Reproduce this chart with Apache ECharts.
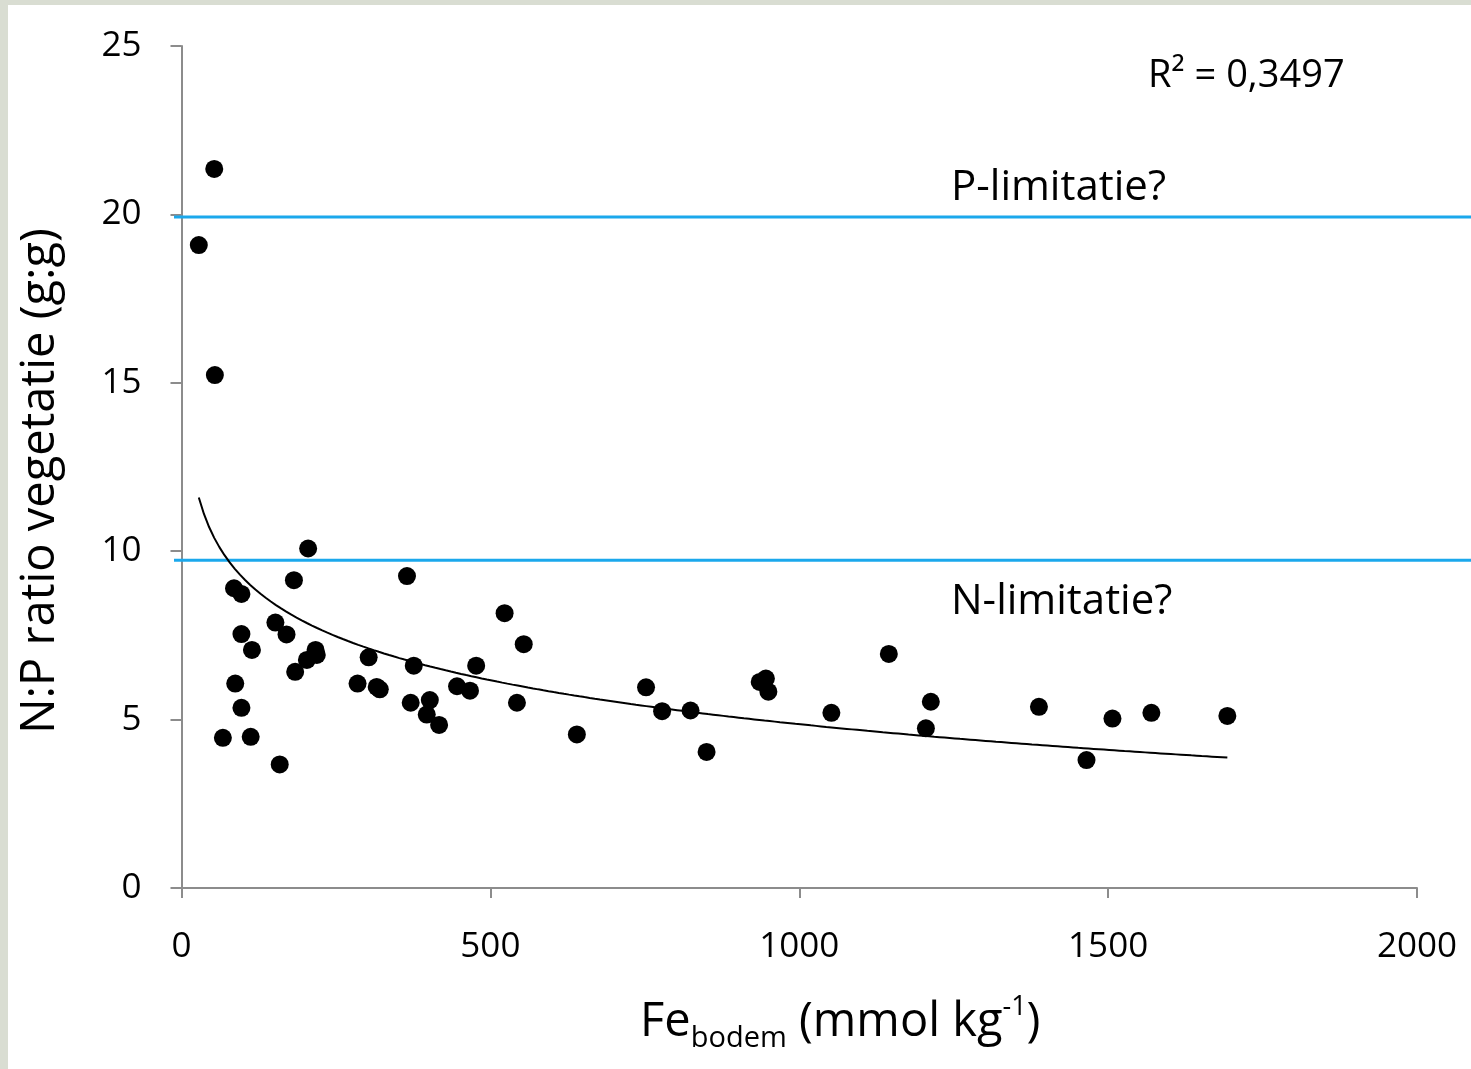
<!DOCTYPE html>
<html>
<head>
<meta charset="utf-8">
<script src="https://cdn.jsdelivr.net/npm/echarts@6/dist/echarts.min.js"></script>
<style>
html,body{margin:0;padding:0;width:1471px;height:1069px;background:#d9ddd2;overflow:hidden;}
#chart{position:absolute;left:8px;top:5px;width:1463px;height:1064px;background:#ffffff;}
</style>
</head>
<body>
<div id="chart"></div>
<script>
// Fe in soil (mmol/kg) and N:P ratio of vegetation (g:g)
var feBodem = [28, 53, 54, 205, 182, 85, 97, 365, 523, 554, 152, 170, 97, 114, 217, 219, 203, 184, 303, 376, 477, 87, 285, 316, 321, 446, 467, 543, 371, 402, 397, 417, 97, 67, 112, 159, 640, 752, 778, 824, 850, 936, 946, 950, 1052, 1145, 1213, 1205, 1388, 1465, 1507, 1570, 1693];
var npRatio = [19.09, 21.35, 15.23, 10.08, 9.14, 8.90, 8.73, 9.26, 8.16, 7.24, 7.88, 7.53, 7.54, 7.07, 7.07, 6.92, 6.77, 6.42, 6.85, 6.60, 6.60, 6.07, 6.07, 5.97, 5.90, 5.99, 5.86, 5.50, 5.50, 5.58, 5.15, 4.84, 5.35, 4.46, 4.49, 3.67, 4.56, 5.96, 5.25, 5.27, 4.04, 6.12, 6.22, 5.83, 5.20, 6.95, 5.53, 4.74, 5.38, 3.80, 5.03, 5.20, 5.11];
var refLines = [19.92, 9.73];
var refLabels = ['P-limitatie?', 'N-limitatie?'];
var r2Text = 'R\u00b2 = 0,3497';
var xTicks = [0, 500, 1000, 1500, 2000];
var yTicks = [0, 5, 10, 15, 20, 25];

// logarithmic least-squares trendline from the data
function logFit(xs, ys) {
  var n = xs.length, sx = 0, sy = 0, sxx = 0, sxy = 0;
  for (var i = 0; i < n; i++) {
    var lx = Math.log(xs[i]);
    sx += lx; sy += ys[i]; sxx += lx * lx; sxy += lx * ys[i];
  }
  var a = (n * sxy - sx * sy) / (n * sxx - sx * sx);
  var b = (sy - a * sx) / n;
  return {a: a, b: b};
}
var fit = logFit(feBodem, npRatio);
var xMinD = Math.min.apply(null, feBodem), xMaxD = Math.max.apply(null, feBodem);
var trend = [];
for (var k = 0; k <= 200; k++) {
  var xv = xMinD + (xMaxD - xMinD) * k / 200;
  trend.push([xv, fit.a * Math.log(xv) + fit.b]);
}

var scatterData = feBodem.map(function (x, i) { return [x, npRatio[i]]; });

var chart = echarts.init(document.getElementById('chart'), null, {renderer: 'canvas'});
var FONT = 'Open Sans';
var axisGrey = '#8c8c8c';
chart.setOption({
  animation: false,
  grid: [
    {left: 173.5, top: 41, right: 54, bottom: 181, containLabel: false, outerBoundsMode: 'none'},
    {left: 166, top: 41, right: 0, bottom: 181, containLabel: false, outerBoundsMode: 'none'}
  ],
  xAxis: [
    {
      gridIndex: 0, type: 'value', min: xTicks[0], max: xTicks[xTicks.length - 1], interval: 500,
      axisLine: {lineStyle: {color: axisGrey, width: 2}},
      axisTick: {show: true, length: 10, lineStyle: {color: axisGrey, width: 2}},
      splitLine: {show: false},
      axisLabel: {color: '#000', fontFamily: FONT, fontSize: 35, margin: 42,
        formatter: function (v) { return String(v); }},
      name: '{m|Fe}{s|bodem}{m| (mmol kg}{p|-1}{m|)}',
      nameLocation: 'middle', nameGap: 98,
      nameTextStyle: {
        padding: [0, 0, 0, 82],
        rich: {
          m: {fontFamily: FONT, fontSize: 47, color: '#000', verticalAlign: 'bottom', lineHeight: 60},
          s: {fontFamily: FONT, fontSize: 29, color: '#000', verticalAlign: 'top', lineHeight: 8, padding: [38, 0, 0, 0]},
          p: {fontFamily: FONT, fontSize: 27, color: '#000', verticalAlign: 'top', lineHeight: 60, padding: [8, 0, 0, 0]}
        }
      }
    },
    {gridIndex: 1, type: 'value', min: 0, max: 1, show: false}
  ],
  yAxis: [
    {
      gridIndex: 0, type: 'value', min: yTicks[0], max: yTicks[yTicks.length - 1], interval: 5,
      axisLine: {show: true, lineStyle: {color: axisGrey, width: 2}},
      axisTick: {show: true, length: 11, lineStyle: {color: axisGrey, width: 2}},
      splitLine: {show: false},
      axisLabel: {color: '#000', fontFamily: FONT, fontSize: 35, margin: 40},
      name: 'N:P ratio vegetatie (g:g)',
      nameLocation: 'middle', nameGap: 117, nameRotate: 90,
      nameTextStyle: {color: '#000', fontFamily: FONT, fontSize: 47, padding: [0, 28, 0, 0]}
    },
    {gridIndex: 1, type: 'value', min: 0, max: 25, show: false}
  ],
  graphic: [
    {type: 'text', left: 1140, top: 52, style: {text: r2Text, fill: '#000', font: '38px "Open Sans"'}},
    {type: 'text', left: 943, top: 162, style: {text: refLabels[0], fill: '#000', font: '42px "Open Sans"'}},
    {type: 'text', left: 943, top: 576, style: {text: refLabels[1], fill: '#000', font: '42px "Open Sans"'}}
  ],
  series: [
    {
      type: 'line', xAxisIndex: 1, yAxisIndex: 1, symbol: 'none', silent: true, z: 1,
      lineStyle: {color: '#1ba8ec', width: 3},
      data: [[0, refLines[0]], [1, refLines[0]]]
    },
    {
      type: 'line', xAxisIndex: 1, yAxisIndex: 1, symbol: 'none', silent: true, z: 1,
      lineStyle: {color: '#1ba8ec', width: 3},
      data: [[0, refLines[1]], [1, refLines[1]]]
    },
    {
      type: 'line', xAxisIndex: 0, yAxisIndex: 0, symbol: 'none', smooth: false, z: 2,
      lineStyle: {color: '#000', width: 2},
      data: trend
    },
    {
      type: 'scatter', xAxisIndex: 0, yAxisIndex: 0, symbol: 'circle', symbolSize: 18, z: 3,
      itemStyle: {color: '#000', opacity: 1},
      data: scatterData
    }
  ]
});
</script>
</body>
</html>
